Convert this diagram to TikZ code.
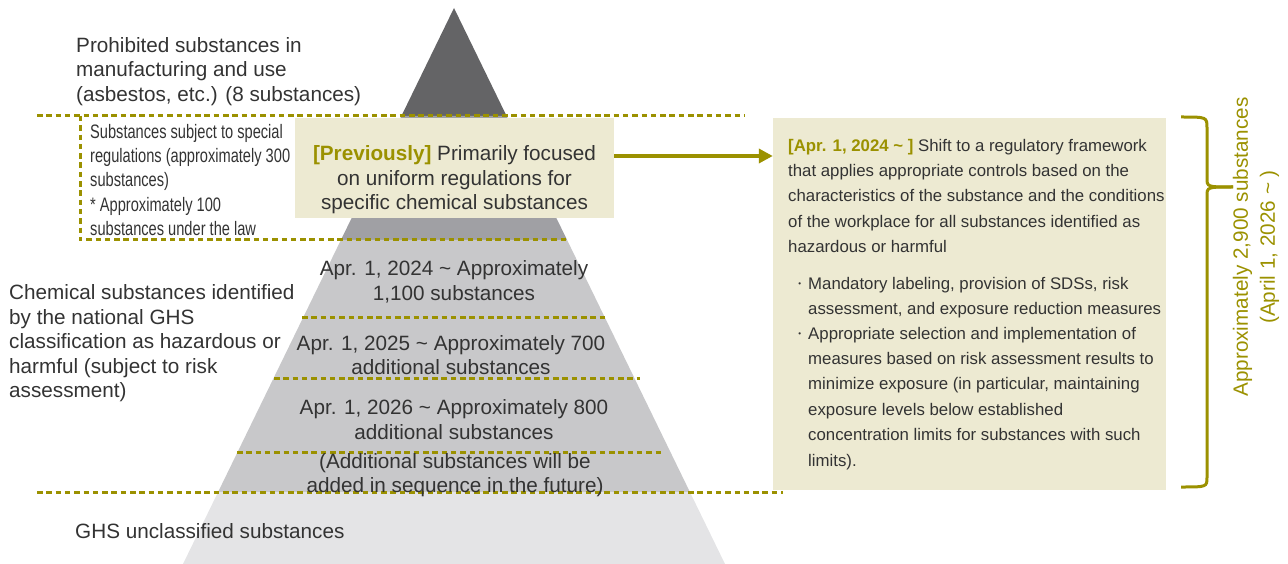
\documentclass[tikz,border=0pt]{standalone}
\usepackage{fontspec}
\setmainfont{Liberation Sans}
\newfontfamily\narrowfont{Liberation Sans}[FakeStretch=0.75]
\usetikzlibrary{arrows.meta}

\definecolor{olivegold}{RGB}{155,145,0}
\definecolor{boxfill}{RGB}{237,234,210}
\definecolor{txtgray}{RGB}{51,51,51}
\definecolor{pyrtop}{RGB}{100,100,102}
\definecolor{pyrmid}{RGB}{160,160,164}
\definecolor{pyrlow}{RGB}{200,200,202}
\definecolor{pyrbase}{RGB}{228,228,230}

\newcommand{\dotmark}{\llap{\raisebox{2.5pt}{\fontsize{8}{8}\selectfont\textbullet}\hspace{7pt}}}

\tikzset{
  lbl/.style={font=\fontsize{20.7}{24.5}\selectfont,text=txtgray,inner sep=0pt,align=left},
  small/.style={font=\narrowfont\fontsize{19.5}{24.3}\selectfont,text=txtgray,inner sep=0pt,align=left},
  boxtxt/.style={font=\fontsize{16.8}{25.4}\selectfont,text=txtgray,inner sep=0pt,align=left},
  divider/.style={olivegold,line width=3pt,dash pattern=on 5.5pt off 3.8pt},
  panel/.style={fill=boxfill,draw=none,inner sep=0pt},
  arr/.style={olivegold,line width=4pt,-{Triangle[length=14pt,width=14pt]}},
  brace/.style={olivegold,line width=3pt}
}

\begin{document}
\begin{tikzpicture}[x=1pt,y=-1pt]
  \useasboundingbox (0,0) rectangle (1288,564);

  % pyramid bands
  \fill[pyrtop] (454,8) -- (506.6,116) -- (401.4,116) -- cycle;
  \fill[pyrmid] (401.4,116) -- (506.6,116) -- (567.1,240) -- (340.9,240) -- cycle;
  \fill[pyrlow] (340.9,240) -- (567.1,240) -- (689.9,492) -- (218.1,492) -- cycle;
  \fill[pyrbase] (218.1,492) -- (689.9,492) -- (725,564) -- (183,564) -- cycle;

  % dividers
  \draw[divider] (37,116) -- (745,116);
  \draw[divider] (80,116) -- (80,240) -- (567,240);
  \draw[divider] (302,317) -- (605,317);
  \draw[divider] (274,378) -- (640,378);
  \draw[divider] (237,452) -- (664,452);
  \draw[divider] (37,492) -- (783,492);

  % left labels
  \node[lbl,anchor=north west] (prohib) at (76,37.3) {Prohibited substances in\\manufacturing and use\\(asbestos, etc.) (8 substances)};
  \node[small,anchor=north west] (special) at (90,123.8) {Substances subject to special\\regulations (approximately 300\\substances)\\* Approximately 100\\substances under the law};
  \node[lbl,anchor=north west] (ghs) at (9,284.3) {Chemical substances identified\\by the national GHS\\classification as hazardous or\\harmful (subject to risk\\assessment)};
  \node[lbl,anchor=north west] (unclass) at (75,523.3) {GHS unclassified substances};

  % pyramid labels
  \node[lbl,align=center] (y2024) at (454,282) {Apr. 1, 2024 \textasciitilde\ Approximately\\1,100 substances};
  \node[lbl,align=center] (y2025) at (451,355) {Apr. 1, 2025 \textasciitilde\ Approximately 700\\additional substances};
  \node[lbl,align=center] (y2026) at (454,419.5) {Apr. 1, 2026 \textasciitilde\ Approximately 800\\additional substances};
  \node[lbl,align=center] (future) at (455,475) {(Additional substances will be\\added in sequence in the future)};

  % previous / new framework
  \node[panel,minimum width=319pt,minimum height=100pt] (prev) at (454.5,168) {};
  \node[lbl,align=center] (prevtxt) at (454.5,180) {\textcolor{olivegold}{\bfseries[Previously]} Primarily focused\\on uniform regulations for\\specific chemical substances};
  \node[panel,minimum width=393pt,minimum height=372pt] (rbox) at (969.5,304) {};
  \node[boxtxt,anchor=north west] (shift) at (788,138.8) {\textcolor{olivegold}{\bfseries[Apr. 1, 2024 \textasciitilde\ ]} Shift to a regulatory framework\\that applies appropriate controls based on the\\characteristics of the substance and the conditions\\of the workplace for all substances identified as\\hazardous or harmful};
  \node[boxtxt,anchor=north west] (bul1) at (808,276.8) {\dotmark Mandatory labeling, provision of SDSs, risk\\assessment, and exposure reduction measures};
  \node[boxtxt,anchor=north west] (bul2) at (808,326.8) {\dotmark Appropriate selection and implementation of\\measures based on risk assessment results to\\minimize exposure (in particular, maintaining\\exposure levels below established\\concentration limits for substances with such\\limits).};

  \draw[arr] ([yshift=12pt]prev.east) -- ([yshift=12pt]prev.east -| rbox.west);

  % brace and total
  \draw[brace] (1181,117) .. controls (1207,117) .. (1207,128) -- (1207,178) .. controls (1207,187) .. (1233,187);
  \draw[brace] (1233,187) .. controls (1207,187) .. (1207,196) -- (1207,477) .. controls (1207,487) .. (1181,487);
  \node[lbl,align=center,text=olivegold,rotate=90,font=\fontsize{20.7}{27}\selectfont] (total) at (1256,247) {Approximately 2,900 substances\\(April 1, 2026 \textasciitilde\ )};
\end{tikzpicture}
\end{document}
